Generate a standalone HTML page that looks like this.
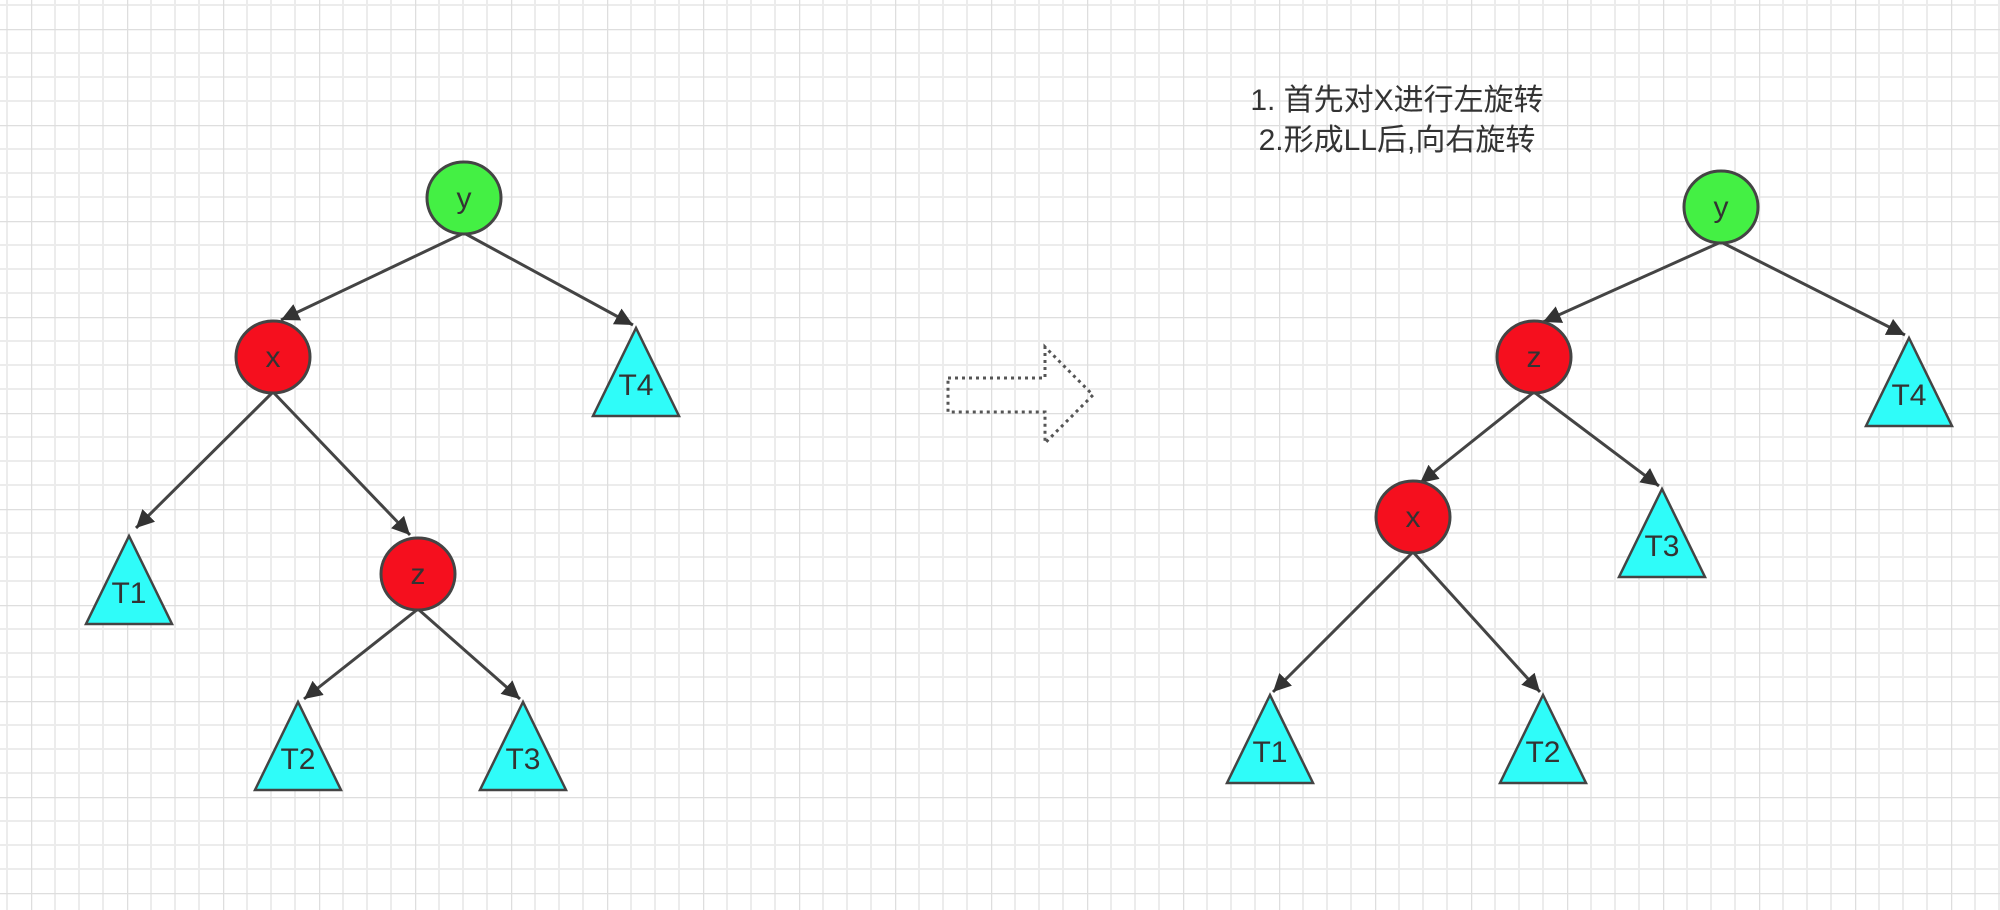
<!DOCTYPE html>
<html><head><meta charset="utf-8"><style>
html,body{margin:0;padding:0;background:#fff;}
svg{display:block;}
text{font-family:"Liberation Sans","Noto Sans CJK SC",sans-serif;fill:#333;}
</style></head><body>
<svg width="2000" height="910" viewBox="0 0 2000 910">
<defs>
<pattern id="grid" x="31" y="29" width="96" height="96" patternUnits="userSpaceOnUse">
<path d="M24 0V96M48 0V96M72 0V96M0 24H96M0 48H96M0 72H96" stroke="#ececec" stroke-width="2" fill="none"/>
<path d="M0 0V96M0 0H96" stroke="#dedede" stroke-width="2.5" fill="none"/>
</pattern>
<marker id="ah" viewBox="0 0 10 10" refX="10" refY="5" markerWidth="6" markerHeight="6" markerUnits="strokeWidth" orient="auto">
<path d="M0 0L10 5L0 10z" fill="#333"/>
</marker>
</defs>
<rect width="2000" height="910" fill="url(#grid)"/>
<g id="diagram" stroke="#444" stroke-width="3"></g>
<text x="1397" y="110" font-size="30" text-anchor="middle">1. 首先对X进行左旋转</text>
<text x="1397" y="150" font-size="30" text-anchor="middle">2.形成LL后,向右旋转</text>
<path d="M948 378H1045V347L1093 395L1045 443V412H948Z" fill="none" stroke="#555" stroke-width="3" stroke-dasharray="3 4"/>
</svg>
<script>
const nodeNames=['y','x','z','y','z','x'];
const nodeX=[464,273,418,1721,1534,1413];
const nodeY=[198,357,574,207,357,517];
const nodeColors=['#44f044','#f50f1e','#f50f1e','#44f044','#f50f1e','#f50f1e'];
const triNames=['T4','T1','T2','T3','T4','T3','T1','T2'];
const triX=[636,129,298,523,1909,1662,1270,1543];
const triY=[328,536,702,702,338,489,695,695];
const edgeFrom=[[464,233],[464,233],[273,392],[273,392],[418,609],[418,609],[1721,242],[1721,242],[1534,392],[1534,392],[1413,552],[1413,552]];
const edgeTo=[[281,320],[633,325],[136,528],[410,535],[304,699],[520,699],[1543,322],[1905,335],[1420,483],[1659,486],[1273,692],[1540,692]];
const NS='http://www.w3.org/2000/svg';
const g=document.getElementById('diagram');
function mk(t,a){const e=document.createElementNS(NS,t);for(const k in a)e.setAttribute(k,a[k]);g.appendChild(e);return e;}
edgeFrom.forEach((f,i)=>{
 const l=mk('line',{x1:f[0],y1:f[1],x2:edgeTo[i][0],y2:edgeTo[i][1],'marker-end':'url(#ah)'});
 
 
});
nodeNames.forEach((n,i)=>{
 const c=mk('ellipse',{cx:nodeX[i],cy:nodeY[i],rx:37,ry:36,fill:nodeColors[i]});
 
 
 const t=mk('text',{x:nodeX[i],y:nodeY[i]+10,'font-size':30,'text-anchor':'middle',stroke:'none'});
 t.textContent=n;
 
 
});
triNames.forEach((n,i)=>{
 const x=triX[i],y=triY[i];
 const p=mk('polygon',{points:`${x},${y} ${x-43},${y+88} ${x+43},${y+88}`,fill:'#2ffcf9','stroke-width':2.5});
 
 
 const t=mk('text',{x:x,y:y+67,'font-size':30,'text-anchor':'middle',stroke:'none'});
 t.textContent=n;
 
 
});
</script>
</body></html>
